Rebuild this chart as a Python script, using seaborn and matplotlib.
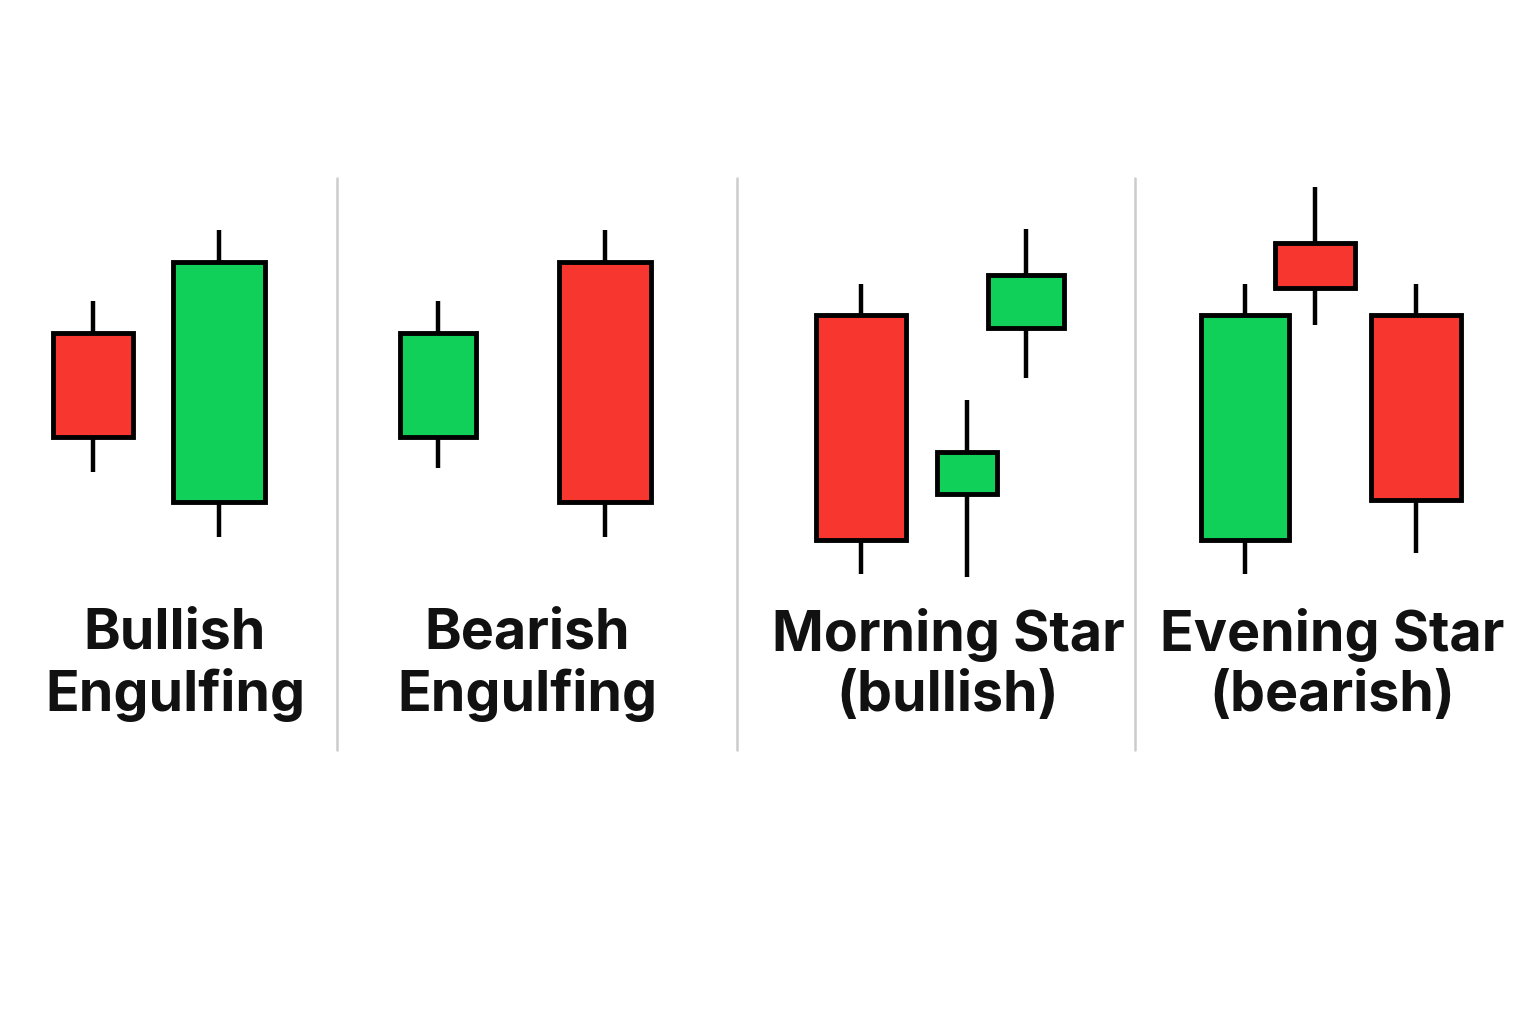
import matplotlib
matplotlib.use("Agg")
import matplotlib.pyplot as plt
from matplotlib.patches import Rectangle
import seaborn as sns

sns.set_theme(style="white")
plt.rcParams['font.family'] = ['Inter', 'DejaVu Sans']

# Candle data (price units), grouped by pattern
patterns = ["Bullish\nEngulfing", "Bearish\nEngulfing", "Morning Star\n(bullish)", "Evening Star\n(bearish)"]
pattern_of = [0, 0, 1, 1, 2, 2, 2, 3, 3, 3]
x_pos = [93, 219, 438, 605, 861, 967, 1026, 1245, 1315, 1416]
opens = [691, 522, 587, 762, 709, 530, 696, 484, 781, 709]
closes = [587, 762, 691, 522, 484, 572, 749, 709, 736, 524]
highs = [723, 794, 723, 794, 740, 624, 795, 740, 837, 740]
lows = [552, 487, 556, 487, 450, 447, 646, 450, 699, 471]
widths = [80, 92, 76, 92, 90, 60, 76, 88, 80, 90]
label_x = [175, 527, 948, 1332]
dividers = [337, 737, 1135]

RED, GREEN = "#f7362f", "#10d05a"

fig = plt.figure(figsize=(15.36, 10.24), dpi=100)
ax = fig.add_axes([0, 0, 1, 1])
ax.set_xlim(0, 1536)
ax.set_ylim(0, 1024)
ax.axis("off")

for x, o, c, h, l, w in zip(x_pos, opens, closes, highs, lows, widths):
    col = GREEN if c > o else RED
    lo, hi = min(o, c), max(o, c)
    ax.plot([x, x], [hi, h], color="black", lw=3.2, solid_capstyle="butt", zorder=1)
    ax.plot([x, x], [l, lo], color="black", lw=3.2, solid_capstyle="butt", zorder=1)
    ax.add_patch(Rectangle((x - w / 2, lo), w, hi - lo, facecolor=col,
                           edgecolor="black", lw=3.5, zorder=2))

for d in dividers:
    ax.plot([d, d], [274, 846], color="#cccccc", lw=1.8)

for lx, t in zip(label_x, patterns):
    ax.text(lx, 359, t, ha="center", va="center", fontsize=40, fontweight="bold",
            color="#111111", linespacing=1.2)

fig.savefig("out.png", dpi=100)
